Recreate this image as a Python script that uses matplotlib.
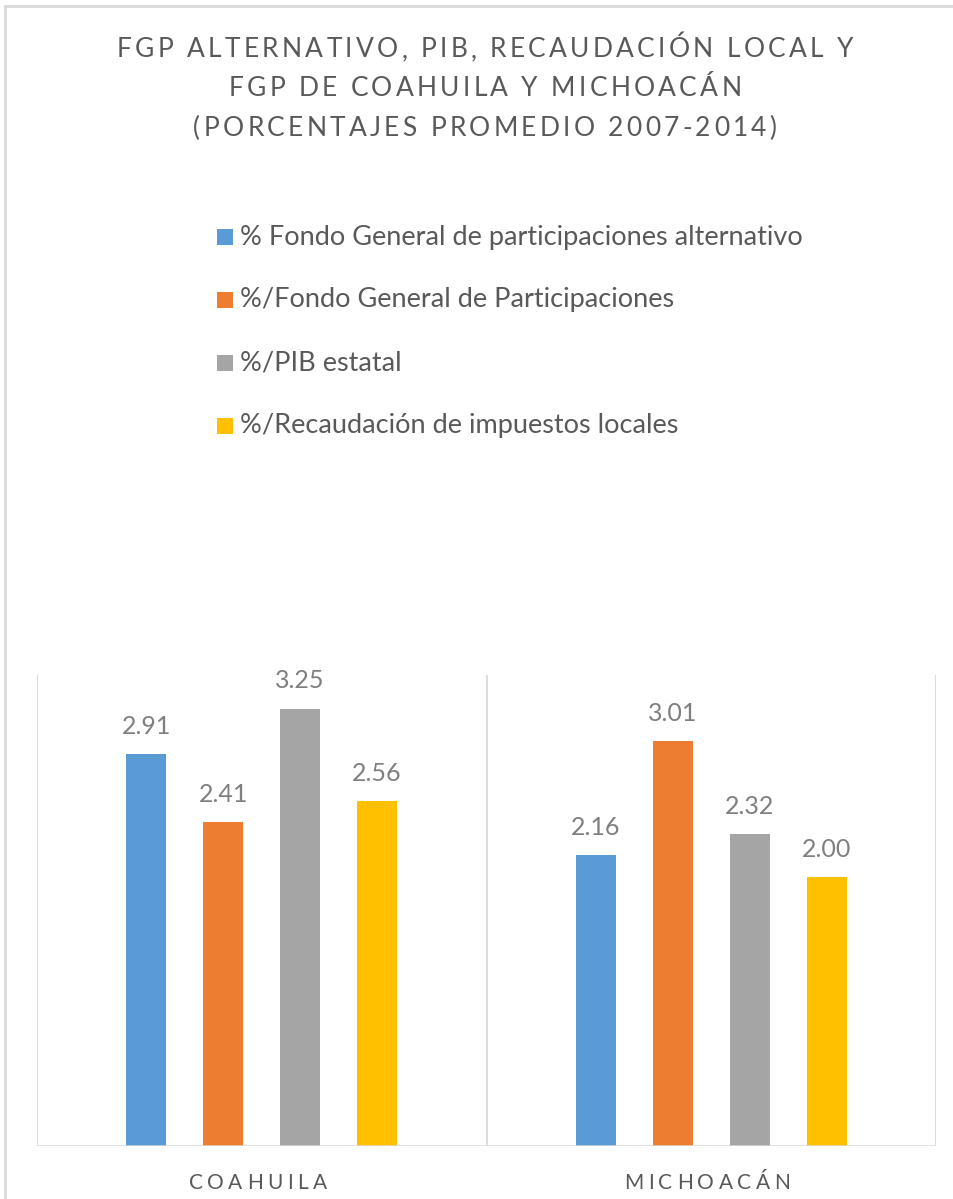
import numpy as np
import matplotlib.pyplot as plt
from matplotlib.patches import Rectangle
from matplotlib.font_manager import FontProperties

plt.rcParams['font.family'] = ['Lato', 'DejaVu Sans']

# datos
estados = ['COAHUILA', 'MICHOACÁN']
series = ['% Fondo General de participaciones alternativo',
          '%/Fondo General de Participaciones',
          '%/PIB estatal',
          '%/Recaudación de impuestos locales']
fgp_alt = [2.91, 2.16]
fgp = [2.41, 3.01]
pib = [3.25, 2.32]
recaudacion = [2.56, 2.00]
valores = [fgp_alt, fgp, pib, recaudacion]
colores = ['#5B9BD5', '#ED7D31', '#A5A5A5', '#FFC000']

titulo = ['FGP ALTERNATIVO, PIB, RECAUDACIÓN LOCAL Y',
          'FGP DE COAHUILA Y MICHOACÁN',
          '(PORCENTAJES PROMEDIO 2007-2014)']

gris_txt = '#595959'
gris_val = '#7F7F7F'
gris_linea = '#D9D9D9'

W, H = 954, 1199
fig = plt.figure(figsize=(W / 100, H / 100), dpi=100)
rend = fig.canvas.get_renderer()


def avance(ch, fp):
    # ancho de avance de un caracter en pixeles (los espacios se miden aparte)
    if ch == ' ':
        a = rend.get_text_width_height_descent('x x', fp, ismath=False)[0]
        b = rend.get_text_width_height_descent('xx', fp, ismath=False)[0]
        return a - b
    return rend.get_text_width_height_descent(ch, fp, ismath=False)[0]


def texto_espaciado(xc, yc, s, size, esp, color):
    # texto con espaciado entre letras, centrado en (xc, yc) en pixeles
    fp = FontProperties(family=['Lato', 'DejaVu Sans'], size=size)
    av = [avance(c, fp) for c in s]
    total = sum(av) + esp * (len(s) - 1)
    x = xc - total / 2
    for c, a in zip(s, av):
        if c != ' ':
            fig.text(x / W, 1 - yc / H, c, fontproperties=fp, color=color,
                     ha='left', va='center_baseline')
        x += a + esp


# marco exterior (solo visible arriba e izquierda)
fig.patches.append(Rectangle((5 / W, -0.1), 1.2, 1193 / H + 0.1,
                             transform=fig.transFigure, fill=False,
                             edgecolor=gris_linea, linewidth=2))

# titulo
for i, linea in enumerate(titulo):
    texto_espaciado(485, 47 + 39.5 * i, linea, 19, 3.3, gris_txt)

# leyenda
for i, (nombre, c) in enumerate(zip(series, colores)):
    y = 1 - (237 + 63 * i) / H
    fig.patches.append(Rectangle((217 / W, y - 8 / H), 16 / W, 16 / H,
                                 transform=fig.transFigure, facecolor=c,
                                 edgecolor='none'))
    fig.text(240 / W, y, nombre, ha='left', va='center', fontsize=19.5,
             color=gris_txt)

ax = fig.add_axes([37 / W, (H - 1146) / H, 899 / W, 471 / H])
x = np.arange(len(estados))
ancho = 0.089
paso = 0.171
for k, (vals, c) in enumerate(zip(valores, colores)):
    pos = x + (k - 1.5) * paso
    barras = ax.bar(pos, vals, width=ancho, color=c, zorder=2)
    for b, v in zip(barras, vals):
        ax.text(b.get_x() + b.get_width() / 2, v + 0.12, f'{v:.2f}',
                ha='center', va='bottom', fontsize=18, color=gris_val)

ax.set_xlim(-0.5, 1.5)
ax.set_ylim(0, 3.5)
for xs in [-0.5, 0.5, 1.5]:
    ax.axvline(xs, color=gris_linea, linewidth=1.3, zorder=1)
ax.axhline(0, color=gris_linea, linewidth=1.8, zorder=3)
for s in ax.spines.values():
    s.set_visible(False)
ax.set_yticks([])
ax.set_xticks([])

# etiquetas de categoria con espaciado
for xi, nombre in zip(x, estados):
    xpix = ax.transData.transform((xi, 0))[0]
    texto_espaciado(xpix - 4, 1181, nombre, 15, 4.5, gris_txt)

fig.savefig('out.png', dpi=100)
